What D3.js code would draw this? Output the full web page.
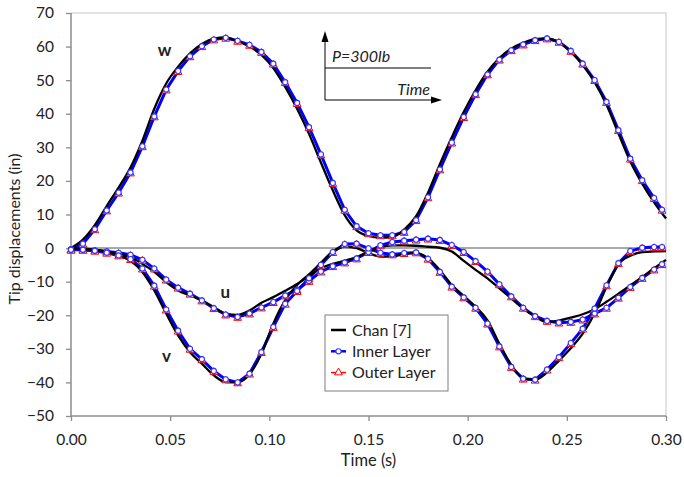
<!DOCTYPE html>
<html>
<head>
<meta charset="utf-8">
<script src="https://cdn.jsdelivr.net/npm/d3@7"></script>
<style>
  body { margin: 0; background: #fff; }
  text { font-family: Lato, "Open Sans", sans-serif; fill: #222; }
</style>
</head>
<body>
<div id="app"></div>
<script>
// time grids (s)
const layerTime = [0, 0.006, 0.012, 0.018, 0.024, 0.030, 0.036, 0.042, 0.048, 0.054,
  0.060, 0.066, 0.072, 0.078, 0.084, 0.090, 0.096, 0.102, 0.108, 0.114,
  0.120, 0.126, 0.132, 0.138, 0.144, 0.150, 0.156, 0.162, 0.168, 0.174,
  0.180, 0.186, 0.192, 0.198, 0.204, 0.210, 0.216, 0.222, 0.228, 0.234,
  0.240, 0.246, 0.252, 0.258, 0.264, 0.270, 0.276, 0.282, 0.288, 0.294, 0.298];
const chanTime = [0, 0.006, 0.012, 0.018, 0.024, 0.030, 0.036, 0.042, 0.048, 0.054,
  0.060, 0.066, 0.072, 0.078, 0.084, 0.090, 0.096, 0.102, 0.108, 0.114,
  0.120, 0.126, 0.132, 0.138, 0.144, 0.150, 0.156, 0.162, 0.168, 0.174,
  0.180, 0.186, 0.192, 0.198, 0.204, 0.210, 0.216, 0.222, 0.228, 0.234,
  0.240, 0.246, 0.252, 0.258, 0.264, 0.270, 0.276, 0.282, 0.288, 0.294, 0.300];

// Chan [7] (in)
const chanU = [0, -0.2, -0.5, -1.0, -1.7, -2.7, -4.7, -7.1, -10.1, -12.6,
  -14.1, -15.6, -17.6, -19.5, -19.9, -18.6, -16.3, -14.6, -12.7, -10.7,
  -8.4, -6.0, -4.7, -3.8, -2.7, -1.1, 0.3, 0.8, 0.8, 0.7,
  0.4, 0.1, -1.0, -3.8, -6.5, -9.0, -12.0, -15.0, -18.0, -20.4,
  -22.0, -21.6, -20.7, -19.7, -18.2, -16.0, -13.6, -11.1, -8.6, -6.0, -3.5];
const chanV = [0, -0.2, -0.6, -1.2, -2.2, -3.8, -7.1, -12.6, -19.5, -26.0,
  -31.0, -34.4, -37.9, -39.9, -40.0, -37.6, -31.5, -22.5, -15.5, -11.0,
  -7.8, -4.4, -1.0, 0.4, 0.0, -1.5, -2.5, -2.5, -1.8, -1.5,
  -3.0, -6.6, -11.0, -14.2, -17.5, -21.5, -28.5, -34.8, -38.8, -39.2,
  -37.0, -33.5, -29.8, -25.5, -19.5, -11.6, -4.8, -2.3, -1.2, -1.0, -0.9];
const chanW = [0, 2.5, 6.8, 12.5, 18.0, 24.0, 32.0, 41.5, 49.0, 54.0,
  58.0, 60.8, 62.4, 62.7, 61.6, 60.0, 57.5, 53.6, 48.0, 41.5,
  34.0, 25.5, 17.2, 9.8, 5.3, 3.6, 3.1, 3.3, 5.5, 9.5,
  16.5, 25.0, 33.0, 40.5, 47.0, 52.5, 56.6, 59.4, 61.1, 62.2,
  62.4, 61.3, 58.5, 54.5, 49.4, 42.7, 34.2, 25.8, 19.2, 13.6, 8.8];

// Inner Layer (in)
const innerU = [-0.4, -0.5, -0.7, -1.0, -1.4, -2.0, -3.5, -6.1, -9.4, -11.8,
  -13.6, -15.6, -17.9, -19.8, -20.5, -19.5, -17.7, -16.1, -14.1, -12.4,
  -9.8, -7.0, -5.4, -4.3, -3.1, -1.2, 0.8, 1.8, 2.2, 2.5,
  2.8, 2.4, 0.9, -1.2, -3.9, -7.0, -10.8, -14.4, -17.8, -20.3,
  -21.7, -22.2, -22.0, -21.3, -19.5, -17.8, -14.8, -11.6, -8.9, -6.4, -4.8];
const innerV = [-0.4, -0.5, -0.8, -1.4, -2.2, -3.3, -6.1, -11.2, -18.3, -24.6,
  -30.0, -33.1, -36.6, -39.1, -40.0, -37.4, -31.0, -23.5, -16.6, -12.8,
  -9.0, -5.0, -1.2, 1.2, 1.3, -0.1, -1.4, -1.9, -1.5, -1.3,
  -3.2, -7.1, -11.5, -14.7, -17.8, -22.5, -29.3, -35.4, -38.9, -39.2,
  -36.2, -32.5, -28.3, -24.0, -18.0, -11.1, -4.5, -0.9, 0.1, 0.3, 0.3];
const innerW = [-0.5, 1.3, 5.6, 11.2, 16.5, 22.5, 30.3, 39.2, 47.2, 52.7,
  57.1, 60.1, 62.1, 62.6, 61.7, 60.5, 58.4, 54.9, 49.4, 43.2,
  36.0, 27.9, 19.4, 11.4, 6.5, 4.4, 3.8, 3.8, 4.8, 8.3,
  15.1, 23.4, 31.4, 39.0, 45.8, 51.7, 56.1, 58.9, 60.6, 61.9,
  62.4, 61.4, 58.7, 54.9, 50.0, 43.5, 35.1, 26.6, 20.2, 14.9, 11.4];

// Outer Layer (in) - sits right under the inner layer
const outerU = [-0.5, -0.6, -0.8, -1.1, -1.5, -2.1, -3.6, -6.2, -9.5, -11.9,
  -13.7, -15.7, -18.0, -19.9, -20.6, -19.6, -17.8, -16.2, -14.2, -12.5,
  -9.9, -7.1, -5.5, -4.4, -3.2, -1.3, 0.7, 1.7, 2.1, 2.4,
  2.7, 2.3, 0.8, -1.3, -4.0, -7.1, -10.9, -14.5, -17.9, -20.4,
  -21.8, -22.3, -22.1, -21.4, -19.6, -17.9, -14.9, -11.7, -9.0, -6.5, -4.9];
const outerV = [-0.5, -0.6, -0.9, -1.5, -2.3, -3.4, -6.2, -11.3, -18.4, -24.7,
  -30.1, -33.2, -36.7, -39.2, -40.1, -37.5, -31.1, -23.6, -16.7, -12.9,
  -9.1, -5.1, -1.3, 1.1, 1.2, -0.2, -1.5, -2.0, -1.6, -1.4,
  -3.3, -7.2, -11.6, -14.8, -17.9, -22.6, -29.4, -35.5, -39.0, -39.3,
  -36.3, -32.6, -28.4, -24.1, -18.1, -11.2, -4.6, -1.0, 0.0, 0.2, 0.2];
const outerW = [-0.6, 1.2, 5.5, 11.1, 16.4, 22.4, 30.2, 39.1, 47.1, 52.6,
  57.0, 60.0, 62.0, 62.5, 61.6, 60.4, 58.3, 54.8, 49.3, 43.1,
  35.9, 27.8, 19.3, 11.3, 6.4, 4.3, 3.7, 3.7, 4.7, 8.2,
  15.0, 23.3, 31.3, 38.9, 45.7, 51.6, 56.0, 58.8, 60.5, 61.8,
  62.3, 61.3, 58.6, 54.8, 49.9, 43.4, 35.0, 26.5, 20.1, 14.8, 11.3];

const xTicks = [0, 0.05, 0.10, 0.15, 0.20, 0.25, 0.30];
const yTicks = [-50, -40, -30, -20, -10, 0, 10, 20, 30, 40, 50, 60, 70];
const legendNames = ["Chan [7]", "Inner Layer", "Outer Layer"];

const margin = { top: 13, right: 18, bottom: 61, left: 71 },
      width  = 684 - margin.left - margin.right,
      height = 477 - margin.top - margin.bottom;

const xScale = d3.scaleLinear().domain([0, 0.3]).range([0, width]);
const yScale = d3.scaleLinear().domain([-50, 70]).range([height, 0]);

const svg = d3.select("#app")
.append("svg")
  .attr("width", 684)
  .attr("height", 477)
.append("g")
  .attr("transform", `translate(${margin.left},${margin.top})`);

/* plot frame */
svg.append("path")
  .attr("d", `M0,0H${width}V${height}`)
  .attr("fill", "none")
  .attr("stroke", "#d9d9d9")
  .attr("stroke-width", 1.5);

/* axes */
const yAxis = svg.append("g")
  .call(d3.axisLeft(yScale).tickValues(yTicks).tickSize(5).tickPadding(12).tickFormat(d3.format("d")));
const xAxis = svg.append("g")
  .attr("transform", `translate(0,${height})`)
  .call(d3.axisBottom(xScale).tickValues(xTicks).tickSize(5).tickPadding(13).tickFormat(d3.format(".2f")));
[xAxis, yAxis].forEach(a => {
  a.select(".domain").remove();
  a.selectAll("line").attr("stroke", "#8c8c8c").attr("stroke-width", 1.3);
  a.selectAll("text").attr("font-size", 15.5).attr("font-family", "Lato, sans-serif").attr("fill", "#222");
});
svg.append("line").attr("x1", 0).attr("x2", 0).attr("y1", 0).attr("y2", height)
  .attr("stroke", "#8c8c8c").attr("stroke-width", 1.5);
svg.append("line").attr("x1", 0).attr("x2", width).attr("y1", height).attr("y2", height)
  .attr("stroke", "#8c8c8c").attr("stroke-width", 1.5);
svg.append("line").attr("x1", 0).attr("x2", width).attr("y1", yScale(0)).attr("y2", yScale(0))
  .attr("stroke", "#8c8c8c").attr("stroke-width", 1.5);

/* axis titles */
svg.append("text")
  .attr("x", width / 2).attr("y", height + 50)
  .attr("text-anchor", "middle").attr("font-size", 16.5)
  .text("Time (s)");
svg.append("text")
  .attr("transform", `translate(${14 - margin.left},${229 - margin.top}) rotate(-90)`)
  .attr("text-anchor", "middle").attr("dy", "0.35em").attr("font-size", 16)
  .text("Tip displacements (in)");

/* lines */
const layerLine = d3.line()
  .x((d, i) => xScale(layerTime[i]))
  .y(d => yScale(d))
  .curve(d3.curveLinear);
const chanLine = d3.line()
  .x((d, i) => xScale(chanTime[i]))
  .y(d => yScale(d))
  .curve(d3.curveMonotoneX);

[outerU, outerV, outerW].forEach(s => {
  svg.append("path").datum(s).attr("d", layerLine)
    .attr("fill", "none").attr("stroke", "#ff0000").attr("stroke-width", 1.5);
});
[innerU, innerV, innerW].forEach(s => {
  svg.append("path").datum(s).attr("d", layerLine)
    .attr("fill", "none").attr("stroke", "#0000ff").attr("stroke-width", 3);
});
[chanU, chanV, chanW].forEach(s => {
  svg.append("path").datum(s).attr("d", chanLine)
    .attr("fill", "none").attr("stroke", "#000").attr("stroke-width", 2.3);
});

/* markers */
const tri = d3.symbol(d3.symbolTriangle, 26);
[outerU, outerV, outerW].forEach(s => {
  svg.append("g").selectAll("path")
    .data(s)
  .enter()
  .append("path")
    .attr("d", tri)
    .attr("transform", (d, i) => `translate(${xScale(layerTime[i])},${yScale(d) + 0.8})`)
    .attr("fill", "#fff").attr("stroke", "#ff0000").attr("stroke-width", 1);
});
[innerU, innerV, innerW].forEach(s => {
  svg.append("g").selectAll("circle")
    .data(s)
  .enter()
  .append("circle")
    .attr("cx", (d, i) => xScale(layerTime[i]))
    .attr("cy", d => yScale(d))
    .attr("r", 2.6)
    .attr("fill", "#fff").attr("stroke", "#3333ff").attr("stroke-width", 1.1);
});

/* component labels */
[["w", 0.0472, 59], ["u", 0.0778, -13], ["v", 0.0482, -32]].forEach(([t, tx, ty]) => {
  svg.append("text")
    .attr("x", xScale(tx)).attr("y", yScale(ty))
    .attr("text-anchor", "middle").attr("dy", "0.35em")
    .attr("font-size", 17).attr("font-weight", "bold")
    .attr("font-family", "'Liberation Sans', Arial, sans-serif").attr("fill", "#000")
    .text(t);
});

/* load inset */
const inset = svg.append("g").attr("transform", `translate(${325 - margin.left},${100 - margin.top})`);
inset.append("path").attr("d", "M0,0V-62M0,0H108M0,-32H106")
  .attr("stroke", "#000").attr("stroke-width", 1).attr("fill", "none");
inset.append("path").attr("d", "M0,-69L-3.5,-58L3.5,-58Z").attr("fill", "#000");
inset.append("path").attr("d", "M117,0L106,-3.5L106,3.5Z").attr("fill", "#000");
inset.append("text").attr("x", 7).attr("y", -38)
  .attr("font-family", "'Liberation Serif', serif").attr("font-style", "italic")
  .attr("font-size", 16).attr("fill", "#111").text("P=300lb");
inset.append("text").attr("x", 105).attr("y", -5).attr("text-anchor", "end")
  .attr("font-family", "'Liberation Serif', serif").attr("font-style", "italic")
  .attr("font-size", 16).attr("fill", "#111").text("Time");

/* legend */
const lg = svg.append("g").attr("transform", `translate(${325 - margin.left},${315 - margin.top})`);
lg.append("rect").attr("width", 123).attr("height", 76)
  .attr("fill", "#fff").attr("stroke", "#7f7f7f").attr("stroke-width", 1);
const lgColors = ["#000", "#0000ff", "#ff0000"];
legendNames.forEach((name, i) => {
  const cy = 15 + i * 21.3;
  lg.append("line").attr("x1", 6).attr("x2", 21).attr("y1", cy).attr("y2", cy)
    .attr("stroke", lgColors[i]).attr("stroke-width", i === 2 ? 1.5 : 2.5);
  if (i === 1) {
    lg.append("circle").attr("cx", 13.5).attr("cy", cy).attr("r", 2.6)
      .attr("fill", "#fff").attr("stroke", "#3333ff").attr("stroke-width", 1.1);
  }
  if (i === 2) {
    lg.append("path").attr("d", tri).attr("transform", `translate(13.5,${cy})`)
      .attr("fill", "#fff").attr("stroke", "#ff0000").attr("stroke-width", 1);
  }
  lg.append("text").attr("x", 27).attr("y", cy).attr("dy", "0.35em")
    .attr("font-size", 16).text(name);
});
</script>
</body>
</html>
